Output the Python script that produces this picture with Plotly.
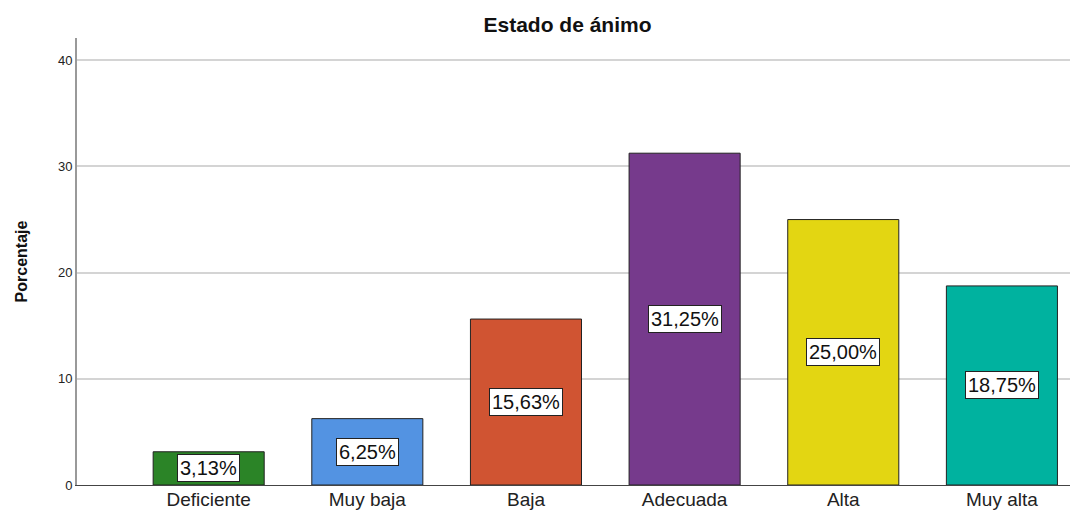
import plotly.graph_objects as go

categories = ["Deficiente", "Muy baja", "Baja", "Adecuada", "Alta", "Muy alta"]
percentages = [3.13, 6.25, 15.63, 31.25, 25.00, 18.75]
bar_colors = ["#2b8427", "#5393e2", "#d05432", "#763a8c", "#e3d612", "#00b29f"]
y_ticks = [0, 10, 20, 30, 40]

x_pos = list(range(len(categories)))
font_main = "Liberation Sans, Arial"

fig = go.Figure()
fig.add_trace(go.Bar(
    x=x_pos, y=percentages, width=0.7,
    marker=dict(color=bar_colors, line=dict(color="#222222", width=1)),
    hoverinfo="skip",
))

# value labels in white boxes at mid-height of each bar
for xi, v in zip(x_pos, percentages):
    fig.add_annotation(
        x=xi, y=v / 2, text=f"{v:.2f}%".replace(".", ","), showarrow=False,
        font=dict(family=font_main, size=20, color="#111111"),
        bgcolor="white", bordercolor="#222222", borderwidth=1, borderpad=2,
    )

# page body adds an 8px offset, margins below compensate for it
fig.update_layout(
    width=1078, height=511,
    margin=dict(l=69, r=0, t=30, b=34),
    paper_bgcolor="white", plot_bgcolor="white",
    showlegend=False,
    title=dict(
        text="<b>Estado de ánimo</b>", x=0.519, xanchor="center", y=0.967, yanchor="middle",
        font=dict(family=font_main, size=21, color="#111111"),
    ),
    xaxis=dict(
        range=[-0.83, 5.53], tickvals=x_pos, ticktext=categories,
        showgrid=False, zeroline=False, showline=True, linecolor="#444444", linewidth=1,
        ticks="", ticklabelstandoff=-3,
        tickfont=dict(family=font_main, size=19, color="#222222"),
    ),
    yaxis=dict(
        range=[0, 42.1], tickvals=y_ticks,
        showgrid=True, gridcolor="#d4d4d4", gridwidth=2, zeroline=False,
        showline=True, linecolor="#999999", linewidth=2,
        ticks="", tickfont=dict(family=font_main, size=13, color="#222222"),
        title=dict(text="<b>Porcentaje</b>", standoff=26,
                   font=dict(family=font_main, size=16, color="#111111")),
    ),
)

fig.write_html("out.html")
